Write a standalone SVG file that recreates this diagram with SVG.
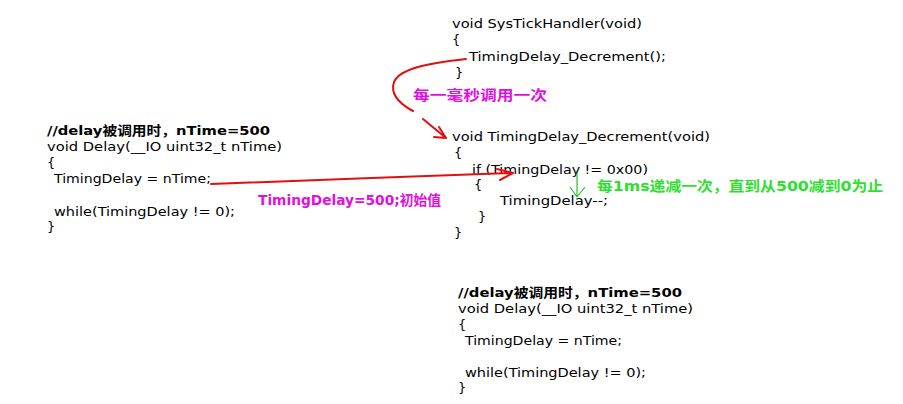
<svg xmlns="http://www.w3.org/2000/svg" width="903" height="404" viewBox="0 0 903 404">
<style>
.c{font-family:"DejaVu Sans","Noto Sans CJK SC",sans-serif;font-size:13px;fill:#000}
.cb{font-weight:bold}
.m{font-family:"DejaVu Sans","Noto Sans CJK SC",sans-serif;font-size:14px;font-weight:bold;fill:#e010e0}
.g{font-family:"DejaVu Sans","Noto Sans CJK SC",sans-serif;font-size:14px;font-weight:bold;fill:#2ee02e}
.r{fill:none;stroke:#e01010;stroke-width:2;stroke-linecap:round;stroke-linejoin:round}
.gl{fill:none;stroke:#30c030;stroke-width:1.2}
</style>
<rect width="903" height="404" fill="#fff"/>
<g id="delay-left">
<text class="c cb" x="47" y="135" textLength="223" lengthAdjust="spacingAndGlyphs">//delay被调用时，nTime=500</text>
<text class="c" x="47" y="151" textLength="235" lengthAdjust="spacingAndGlyphs">void Delay(__IO uint32_t nTime)</text>
<text class="c" x="47" y="167">{</text>
<text class="c" x="54" y="183" textLength="157" lengthAdjust="spacingAndGlyphs">TimingDelay = nTime;</text>
<text class="c" x="54" y="216" textLength="181" lengthAdjust="spacingAndGlyphs">while(TimingDelay != 0);</text>
<text class="c" x="47" y="231">}</text>
</g>
<g id="systick">
<text class="c" x="452" y="28" textLength="190" lengthAdjust="spacingAndGlyphs">void SysTickHandler(void)</text>
<text class="c" x="452" y="44">{</text>
<text class="c" x="469" y="61" textLength="197" lengthAdjust="spacingAndGlyphs">TimingDelay_Decrement();</text>
<text class="c" x="455" y="77">}</text>
</g>
<g id="decrement">
<text class="c" x="452" y="141" textLength="258" lengthAdjust="spacingAndGlyphs">void TimingDelay_Decrement(void)</text>
<text class="c" x="454" y="157">{</text>
<text class="c" x="472" y="174" textLength="176" lengthAdjust="spacingAndGlyphs">if (TimingDelay != 0x00)</text>
<text class="c" x="474" y="189">{</text>
<text class="c" x="500" y="205" textLength="108" lengthAdjust="spacingAndGlyphs">TimingDelay--;</text>
<text class="c" x="478" y="221">}</text>
<text class="c" x="454" y="237">}</text>
</g>
<g id="delay-bottom">
<text class="c cb" x="458" y="297" textLength="224" lengthAdjust="spacingAndGlyphs">//delay被调用时，nTime=500</text>
<text class="c" x="458" y="313" textLength="235" lengthAdjust="spacingAndGlyphs">void Delay(__IO uint32_t nTime)</text>
<text class="c" x="458" y="329">{</text>
<text class="c" x="465" y="345" textLength="157" lengthAdjust="spacingAndGlyphs">TimingDelay = nTime;</text>
<text class="c" x="465" y="377" textLength="181" lengthAdjust="spacingAndGlyphs">while(TimingDelay != 0);</text>
<text class="c" x="458" y="392">}</text>
</g>
<g id="labels">
<text class="m" x="413" y="100" textLength="134" lengthAdjust="spacingAndGlyphs">每一毫秒调用一次</text>
<text class="m" x="258" y="205" textLength="183" lengthAdjust="spacingAndGlyphs">TimingDelay=500;初始值</text>
<text class="g" x="597" y="191" textLength="286" lengthAdjust="spacingAndGlyphs">每1ms递减一次，直到从500减到0为止</text>
</g>
<g id="connectors">
<path class="r" d="M466,59 C430,63 400,68 394,82 C390,94 400,104 413,111"/>
<path class="r" d="M423,119 L446,138 M446,138 L434,137 M446,138 L439,127"/>
<path class="r" d="M211,184 C300,181 420,176 513,173 M513,173 L497,169 M513,173 L500,180"/>
<path class="gl" d="M577,173 L577,197 M577,197 L570,187 M577,197 L585,187"/>
</g>
</svg>
